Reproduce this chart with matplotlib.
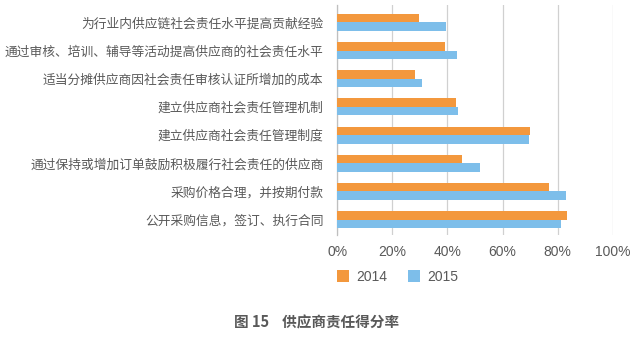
import matplotlib
matplotlib.use("Agg")
import matplotlib.pyplot as plt
import numpy as np

plt.rcParams['font.family'] = ['Noto Sans CJK SC', 'DejaVu Sans']

categories = [
    "为行业内供应链社会责任水平提高贡献经验",
    "通过审核、培训、辅导等活动提高供应商的社会责任水平",
    "适当分摊供应商因社会责任审核认证所增加的成本",
    "建立供应商社会责任管理机制",
    "建立供应商社会责任管理制度",
    "通过保持或增加订单鼓励积极履行社会责任的供应商",
    "采购价格合理，并按期付款",
    "公开采购信息，签订、执行合同",
]
values_2014 = [29.6, 39.2, 28.3, 43.2, 70.1, 45.3, 77.0, 83.5]
values_2015 = [39.5, 43.4, 30.7, 43.8, 69.7, 51.9, 83.2, 81.2]
series_names = ["2014", "2015"]
xticks = [0, 20, 40, 60, 80, 100]
xtick_labels = ["0%", "20%", "40%", "60%", "80%", "100%"]
title = "图 15    供应商责任得分率"

c14 = "#F3983D"
c15 = "#7DBEEA"
txt = "#595959"
num_font = ['Liberation Sans', 'DejaVu Sans']

W, H = 635, 347
fig = plt.figure(figsize=(W / 100, H / 100), dpi=100)
ax_left, ax_right = 337.3, 612.7
ax_top, ax_bot = 5, 235
ax = fig.add_axes([ax_left / W, 1 - ax_bot / H, (ax_right - ax_left) / W, (ax_bot - ax_top) / H])

y = np.arange(len(categories))
h = 0.3
ax.barh(y - h / 2, values_2014, height=h, color=c14, label=series_names[0], zorder=3)
ax.barh(y + h / 2, values_2015, height=h, color=c15, label=series_names[1], zorder=3)

ax.set_xlim(0, 100)
ax.set_ylim(len(categories) - 1 + 0.55, -0.62)
ax.set_xticks(xticks)
ax.set_xticklabels(xtick_labels, color=txt, fontsize=10, family=num_font)
ax.set_yticks(y)
ax.set_yticklabels(categories, color=txt, fontsize=9.2)
ax.tick_params(axis='y', length=0, pad=10)
ax.tick_params(axis='x', length=0, pad=7)
ax.grid(axis='x', color="#D0D0D0", linewidth=0.9, zorder=0)
for s in ['top', 'right', 'bottom']:
    ax.spines[s].set_visible(False)
ax.spines['left'].set_color("#BFBFBF")
ax.spines['left'].set_linewidth(0.9)

leg = fig.legend(loc='center left', bbox_to_anchor=(336.5 / W, 1 - 277 / H), ncol=2,
                 frameon=False, prop={'family': num_font, 'size': 10},
                 handlelength=0.9, handleheight=0.9,
                 columnspacing=1.5, handletextpad=0.5, borderpad=0, borderaxespad=0)
for t in leg.get_texts():
    t.set_color(txt)

fig.text(317 / W, 1 - 322 / H, title, ha='center', va='center', fontsize=10.5,
         fontweight='bold', color="#595959")

fig.savefig("out.png", dpi=100)
